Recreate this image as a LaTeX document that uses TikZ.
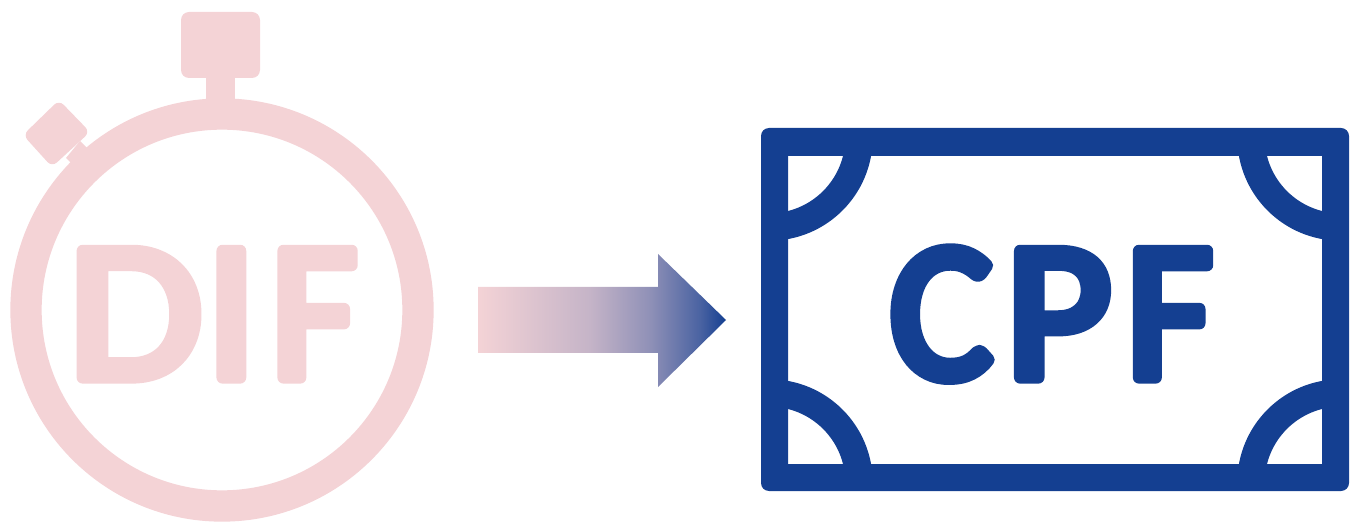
\documentclass[tikz,border=0pt]{standalone}
\usepackage{fontspec}
\newfontfamily\fontC[FakeBold=6.2,FakeStretch=0.97]{Carlito}
\newfontfamily\fontD[FakeBold=6.2,FakeStretch=1.11]{Carlito}
\newfontfamily\fontP[FakeBold=6.2,FakeStretch=1.04]{Carlito}
\newfontfamily\fontF[FakeBold=6.2,FakeStretch=0.95]{Carlito}
\newfontfamily\fontI[FakeBold=6.2]{Carlito}
\definecolor{dpink}{HTML}{F4D3D6}
\definecolor{dblue}{HTML}{143F91}
\pgfdeclarehorizontalshading{arrowfade}{100bp}{
  color(0bp)=(dpink);
  color(25bp)=(dpink);
  color(47.6bp)=(dpink!79!dblue);
  color(59.7bp)=(dpink!55!dblue);
  color(69.8bp)=(dpink!24!dblue);
  color(75bp)=(dblue);
  color(100bp)=(dblue)}
\tikzset{
  x=0.75pt,y=-0.75pt,
  ring/.style={draw=dpink,line width=23.5pt},
  pinkfill/.style={fill=dpink,draw=none},
  billline/.style={draw=dblue,line width=20.6pt},
  bigtext/.style={font=\fontsize{148}{148}\selectfont,inner sep=0pt,anchor=base west,line join=round},
}
\begin{document}
\begin{tikzpicture}[line join=round]
\useasboundingbox (0,0) rectangle (1357,527);
% stopwatch
\draw[ring] (222,310) circle [radius=196*0.75pt];
\fill[pinkfill,rounded corners=6pt] (181,12) rectangle (260,78);
\fill[pinkfill] (206,70) rectangle (235,104);
\fill[pinkfill,rounded corners=5pt] (59,100) -- (90,132) -- (52,167) -- (23,135) -- cycle;
\fill[pinkfill] (80,141) -- (90,151) -- (78,170) -- (66,158) -- cycle;
\node[bigtext,text=dpink] (dif) at (67.6,377.5) {{\fontD D}\kern2.9pt{\fontI I}\kern11pt{\fontF F}};
% arrow
\shade[shading=arrowfade]
  (478,287) -- (658,287) -- (658,254) -- (726,320) -- (658,387) -- (658,353) -- (478,353) -- cycle;
% banknote
\fill[dblue,even odd rule,rounded corners=6pt] (761,128) rectangle (1349,491)
  [sharp corners] (788,156) rectangle (1322,464);
\begin{scope}
\clip (788,156) rectangle (1322,464);
\foreach \cx/\cy/\sx/\sy in {788/156/-1/-1,1322/156/1/-1,788/464/-1/1,1322/464/1/1}
  \draw[billline] (\cx+18.5*\sx,\cy+18.5*\sy) circle [radius=89.5*0.75pt];
\end{scope}
\node[bigtext,text=dblue] (cpf) at (890,377.5) {{\fontC C}\kern9.8pt{\fontP P}\kern11.2pt{\fontF F}};
\end{tikzpicture}
\end{document}
